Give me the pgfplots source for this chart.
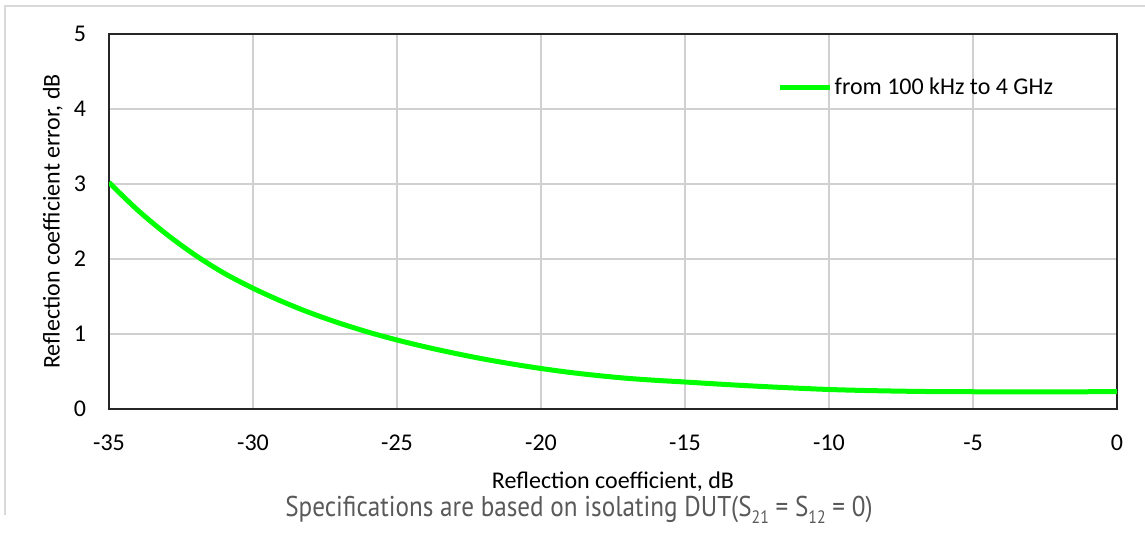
\documentclass[border=0pt]{standalone}
\usepackage{fontspec}
\setmainfont{Carlito}
\newfontfamily\capfont[FakeStretch=0.88]{PT Sans}
\usepackage{pgfplots}
\pgfplotsset{compat=1.18}
\definecolor{gridgray}{HTML}{D0D0D0}
\definecolor{linegreen}{HTML}{00FF00}
\definecolor{capgray}{HTML}{595959}
\definecolor{framegray}{HTML}{D9D9D9}
\newcommand\lowsub[1]{\raisebox{-0.5ex}{\fontsize{9}{9}\selectfont #1}}
\begin{document}
\begin{tikzpicture}
\useasboundingbox (0,0) rectangle (572.5pt,267.5pt);
\draw[framegray, line width=0.6pt] (2.5pt,10pt) -- (2.5pt,264.5pt) -- (572.5pt,264.5pt);
\begin{axis}[
    at={(54.5pt,63pt)}, anchor=south west,
    scale only axis,
    width=504pt, height=187.5pt,
    xmin=-35, xmax=0,
    ymin=0, ymax=5,
    xtick={-35,-30,...,0},
    ytick={0,1,...,5},
    major tick length=0pt,
    grid=major,
    major grid style={gridgray, line width=0.7pt},
    axis line style={black!85, line width=0.9pt},
    /pgf/number format/assume math mode=true,
    tick label style={font=\fontsize{12}{14}\selectfont},
    yticklabel style={xshift=-8pt},
    xticklabel style={yshift=-9.5pt},
    xlabel={Reflection coefficient, dB},
    ylabel={Reflection coefficient error, dB},
    label style={font=\fontsize{12}{14}\selectfont},
    xlabel style={at={(axis description cs:0.5,-0.194)}, anchor=center},
    ylabel style={at={(axis description cs:-0.0556,0.50)}, anchor=center, rotate=0},
    legend style={draw=none, fill=none, at={(0.663,0.856)}, anchor=west,
        inner sep=0pt, font=\fontsize{12}{14}\selectfont,
        nodes={inner sep=1pt}},
    legend image code/.code={\draw[#1] (0pt,0pt) -- (25pt,0pt);},
]
\addplot[linegreen, line width=2.5pt, smooth] coordinates {
    (-35,3.02) (-34,2.65) (-33,2.33) (-32,2.05) (-31,1.81) (-30,1.61)
    (-29,1.435) (-28,1.28) (-27,1.145) (-26,1.025) (-25,0.92) (-24,0.827)
    (-23,0.743) (-22,0.667) (-21,0.60) (-20,0.54) (-19,0.488) (-18,0.445)
    (-17,0.409) (-16,0.382) (-15,0.36) (-14,0.336) (-13,0.314) (-12,0.294)
    (-11,0.276) (-10,0.26) (-9,0.249) (-8,0.241) (-7,0.235) (-6,0.231)
    (-5,0.23) (-4,0.229) (-3,0.229) (-2,0.229) (-1,0.23) (0,0.233)
};
\addlegendentry{from 100 kHz to 4 GHz}
\end{axis}
\node[anchor=center, text=capgray, font=\capfont\fontsize{14.3}{16}\selectfont]
    at (289.5pt,12.5pt) {Specifications are based on isolating DUT(S\lowsub{21} = S\lowsub{12} = 0)};
\end{tikzpicture}
\end{document}
